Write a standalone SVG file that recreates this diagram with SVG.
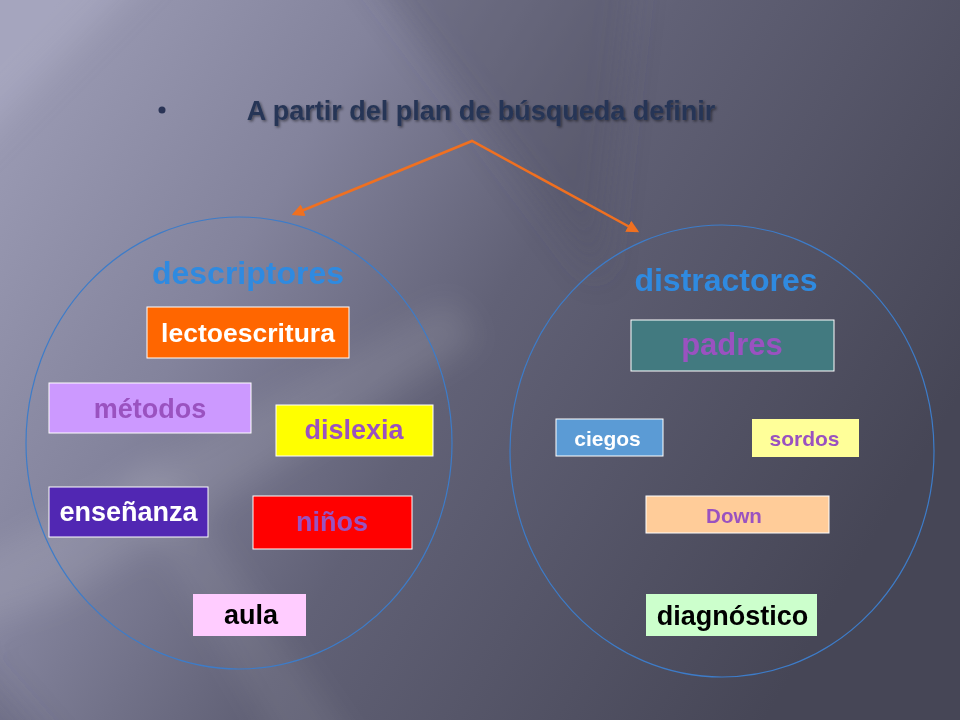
<svg xmlns="http://www.w3.org/2000/svg" width="960" height="720" viewBox="0 0 960 720">
<defs>
<linearGradient id="bg" x1="0" y1="0.1" x2="1" y2="0.55">
<stop offset="0" stop-color="#9c9cb5"/>
<stop offset="0.3" stop-color="#83839c"/>
<stop offset="0.55" stop-color="#616176"/>
<stop offset="1" stop-color="#464656"/>
</linearGradient>
<filter id="blur" filterUnits="userSpaceOnUse" x="-200" y="-200" width="1360" height="1120">
<feGaussianBlur stdDeviation="16"/>
</filter>
<marker id="ah" viewBox="0 0 10 10" refX="8" refY="5" markerWidth="5" markerHeight="5" orient="auto-start-reverse">
<path d="M0,0 L10,5 L0,10 z" fill="#f07020"/>
</marker>
<filter id="sh" x="-5%" y="-20%" width="110%" height="140%">
<feDropShadow dx="1.5" dy="1.5" stdDeviation="0.8" flood-color="#000" flood-opacity="0.45"/>
</filter>
</defs>
<style>
text{font-family:"Liberation Sans",Arial,sans-serif;font-weight:bold;text-anchor:middle}
.box{stroke:#ffffff;stroke-width:1}
.circ{fill:none;stroke:#3d7cc9;stroke-width:1.2}
.head{fill:#2f8ae0;font-size:32px}
.wt{fill:#ffffff}
.pu{fill:#9a52c0}
.bk{fill:#000000}
</style>
<rect width="960" height="720" fill="url(#bg)"/>
<g filter="url(#blur)">
<polygon points="-60,-60 180,-60 -60,180" fill="#b4b4cc" opacity="0.4"/>
<polygon points="330,-80 640,-80 600,280" fill="#4e4e64" opacity="0.35"/>
<polygon points="450,300 480,340 60,600 -60,640 -60,580" fill="#ffffff" opacity="0.1"/>
<polygon points="120,480 160,460 380,780 300,780" fill="#ffffff" opacity="0.07"/>
<polygon points="-60,620 80,780 -60,780" fill="#4e4e62" opacity="0.3"/>
</g>

<g id="title">
<circle cx="162" cy="110" r="3.5" fill="#2a3456"/>
<text x="481" y="120" font-size="27" fill="#283656" filter="url(#sh)">A partir del plan de búsqueda definir</text>
</g>

<g id="connectors" fill="none" stroke="#f07020" stroke-width="2.5">
<polyline points="294,214 472,141 637,231" marker-start="url(#ah)" marker-end="url(#ah)"/>
</g>

<g id="descriptores">
<ellipse class="circ" cx="239" cy="443" rx="213" ry="226"/>
<text class="head" x="248" y="284">descriptores</text>
</g>
<g id="distractores">
<ellipse class="circ" cx="722" cy="451" rx="212" ry="226"/>
<text class="head" x="726" y="291">distractores</text>
</g>

<g id="lectoescritura"><rect class="box" x="147" y="307" width="202" height="51" fill="#ff6600"/><text class="wt" x="248" y="342" font-size="26.5">lectoescritura</text></g>
<g id="metodos"><rect class="box" x="49" y="383" width="202" height="50" fill="#cc99ff"/><text class="pu" x="150" y="418" font-size="27">métodos</text></g>
<g id="dislexia"><rect class="box" x="276" y="405" width="157" height="51" fill="#ffff00"/><text class="pu" x="354" y="439" font-size="27">dislexia</text></g>
<g id="ensenanza"><rect class="box" x="49" y="487" width="159" height="50" fill="#5127b3"/><text class="wt" x="128.5" y="521" font-size="27">enseñanza</text></g>
<g id="ninos"><rect class="box" x="253" y="496" width="159" height="53" fill="#ff0000"/><text class="pu" x="332" y="531" font-size="27">niños</text></g>
<g id="aula"><rect x="193" y="594" width="113" height="42" fill="#ffccff"/><text class="bk" x="251" y="624" font-size="27">aula</text></g>

<g id="padres"><rect class="box" x="631" y="320" width="203" height="51" fill="#427a80"/><text class="pu" x="732" y="355" font-size="31">padres</text></g>
<g id="ciegos"><rect class="box" x="556" y="419" width="107" height="37" fill="#5b9bd5"/><text class="wt" x="607.5" y="446" font-size="21">ciegos</text></g>
<g id="sordos"><rect x="752" y="419" width="107" height="38" fill="#ffff99"/><text class="pu" x="804.5" y="446" font-size="21">sordos</text></g>
<g id="down"><rect class="box" x="646" y="496" width="183" height="37" fill="#ffcc99"/><text class="pu" x="734" y="523" font-size="20.5">Down</text></g>
<g id="diagnostico"><rect x="646" y="594" width="171" height="42" fill="#ccffcc"/><text class="bk" x="732.5" y="625" font-size="27">diagnóstico</text></g>
</svg>
